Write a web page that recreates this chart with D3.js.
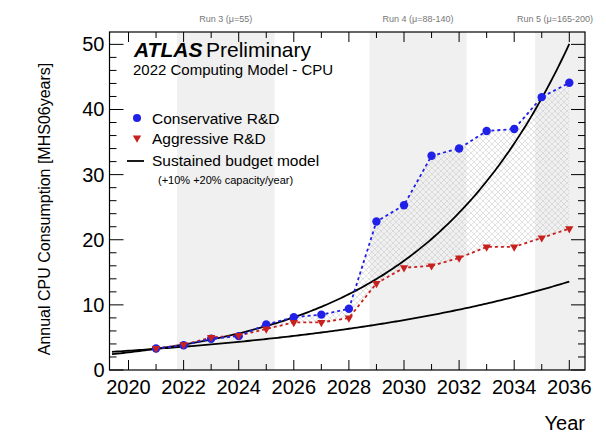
<!DOCTYPE html>
<html><head><meta charset="utf-8">
<script src="https://cdn.jsdelivr.net/npm/d3@7"></script>
<style>body{margin:0;background:#fff}text{font-family:"Liberation Sans",Arial,sans-serif}</style>
</head><body><svg id="c" width="606" height="437"></svg>
<script>
var years = [2021,2022,2023,2024,2025,2026,2027,2028,2029,2030,2031,2032,2033,2034,2035,2036];
var conservative = [3.3,3.8,4.8,5.2,7.0,8.1,8.5,9.4,22.8,25.3,32.9,34.0,36.7,37.0,41.9,44.1];
var aggressive = [3.3,3.9,5.0,5.3,6.3,7.3,7.3,8.0,13.3,15.7,16.0,17.2,18.9,18.9,20.3,21.7];
var runs = [{label:"Run 3 (\u03bc=55)", x0:2021.76, x1:2025.3},
            {label:"Run 4 (\u03bc=88-140)", x0:2028.75, x1:2032.27},
            {label:"Run 5 (\u03bc=165-200)", x0:2034.76, x1:2036.57}];
var budgetRates = [1.1, 1.2];
var budgetStart = 3.25;
var xTicks = [2020,2022,2024,2026,2028,2030,2032,2034,2036];
var yTicks = [0,10,20,30,40,50];

var svg = d3.select("#c");
var L=109.5, R=585, T=32, B=370;
var x = d3.scaleLinear().domain([2019.31,2036.57]).range([L,R]);
var y = d3.scaleLinear().domain([0,51.9]).range([B,T]);

var defs = svg.append("defs");
var pat = defs.append("pattern").attr("id","hatch").attr("width",6).attr("height",6)
  .attr("patternUnits","userSpaceOnUse");
pat.append("path").attr("d","M0,0L6,6M6,0L0,6").attr("stroke","#c4c4c4").attr("stroke-width",0.5);

svg.selectAll(".band").data(runs).enter().append("rect")
  .attr("x",d=>x(d.x0)).attr("width",d=>x(d.x1)-x(d.x0))
  .attr("y",T).attr("height",B-T).attr("fill","#f0f0f0");
svg.selectAll(".rl").data(runs).enter().append("text")
  .attr("x",d=>(x(d.x0)+x(Math.min(d.x1,2036.2)))/2).attr("y",22)
  .attr("text-anchor","middle").attr("font-size",9).attr("fill","#777").text(d=>d.label);

// hatched area between the scenarios
var idx = d3.range(4, years.length);
svg.append("path").datum(idx).attr("fill","url(#hatch)")
  .attr("d", d3.area().x(i=>x(years[i])).y0(i=>y(aggressive[i])).y1(i=>y(conservative[i])));

// budget curves
var xs = d3.range(2019.4, 2036.001, 0.1);
budgetRates.forEach(function(r){
  svg.append("path").datum(xs).attr("fill","none").attr("stroke","#000").attr("stroke-width",1.8)
    .attr("d", d3.line().x(v=>x(v)).y(v=>y(budgetStart*Math.pow(r, v-2021))));
});

var line = d3.line().x((d,i)=>x(years[i])).y(d=>y(d));
svg.append("path").datum(aggressive).attr("fill","none").attr("stroke","#c8201e")
  .attr("stroke-width",1.8).attr("stroke-dasharray","3,3").attr("d",line);
svg.append("path").datum(conservative).attr("fill","none").attr("stroke","#2020e8")
  .attr("stroke-width",1.8).attr("stroke-dasharray","3,3").attr("d",line);
svg.selectAll(".c").data(conservative).enter().append("circle")
  .attr("cx",(d,i)=>x(years[i])).attr("cy",d=>y(d)).attr("r",4.2).attr("fill","#2020e8");
var tri = d3.symbol().type(d3.symbolTriangle).size(30);
svg.selectAll(".a").data(aggressive).enter().append("path").attr("d",tri)
  .attr("transform",(d,i)=>"translate("+x(years[i])+","+y(d)+") rotate(180)").attr("fill","#c8201e");

// frame + ticks on all sides
svg.append("rect").attr("x",L).attr("y",T).attr("width",R-L).attr("height",B-T)
  .attr("fill","none").attr("stroke","#000").attr("stroke-width",1.2);
var g = svg.append("g").attr("stroke","#000").attr("stroke-width",1);
d3.range(2020,2037).forEach(function(v){
  var len = v%2===0 ? 10 : 6;
  g.append("line").attr("x1",x(v)).attr("x2",x(v)).attr("y1",B).attr("y2",B-len);
  g.append("line").attr("x1",x(v)).attr("x2",x(v)).attr("y1",T).attr("y2",T+len);
});
d3.range(0,52,2).forEach(function(v){
  var len = v%10===0 ? 14 : 7;
  g.append("line").attr("y1",y(v)).attr("y2",y(v)).attr("x1",L).attr("x2",L+len);
  g.append("line").attr("y1",y(v)).attr("y2",y(v)).attr("x1",R).attr("x2",R-len);
});
svg.selectAll(".xt").data(xTicks).enter().append("text")
  .attr("x",d=>x(d)).attr("y",B+24).attr("text-anchor","middle").attr("font-size",20).text(d=>d);
svg.selectAll(".yt").data(yTicks).enter().append("text")
  .attr("x",L-5).attr("y",d=>y(d)+7).attr("text-anchor","end").attr("font-size",20).text(d=>d);

svg.append("text").attr("x",R).attr("y",430).attr("text-anchor","end").attr("font-size",20).text("Year");
svg.append("text").attr("transform","translate(50,"+((T+B)/2+8)+") rotate(-90)")
  .attr("text-anchor","middle").attr("font-size",16).text("Annual CPU Consumption  [MHS06years]");

// header
svg.append("text").attr("x",134).attr("y",57).attr("font-size",21).attr("font-weight","bold")
  .attr("font-style","italic").text("ATLAS");
svg.append("text").attr("x",206).attr("y",57).attr("font-size",21).text("Preliminary");
svg.append("text").attr("x",133).attr("y",75).attr("font-size",15).text("2022 Computing Model - CPU");

// legend
svg.append("circle").attr("cx",137).attr("cy",118).attr("r",4).attr("fill","#2020e8");
svg.append("text").attr("x",152).attr("y",124).attr("font-size",15.5).text("Conservative R&D");
svg.append("path").attr("d",tri).attr("transform","translate(137,138) rotate(180)").attr("fill","#c8201e");
svg.append("text").attr("x",152).attr("y",144).attr("font-size",15.5).text("Aggressive R&D");
svg.append("line").attr("x1",127).attr("x2",144).attr("y1",161).attr("y2",161).attr("stroke","#000").attr("stroke-width",1.8);
svg.append("text").attr("x",152).attr("y",166).attr("font-size",15.5).text("Sustained budget model");
svg.append("text").attr("x",158).attr("y",184).attr("font-size",11).text("(+10% +20% capacity/year)");
</script></body></html>
